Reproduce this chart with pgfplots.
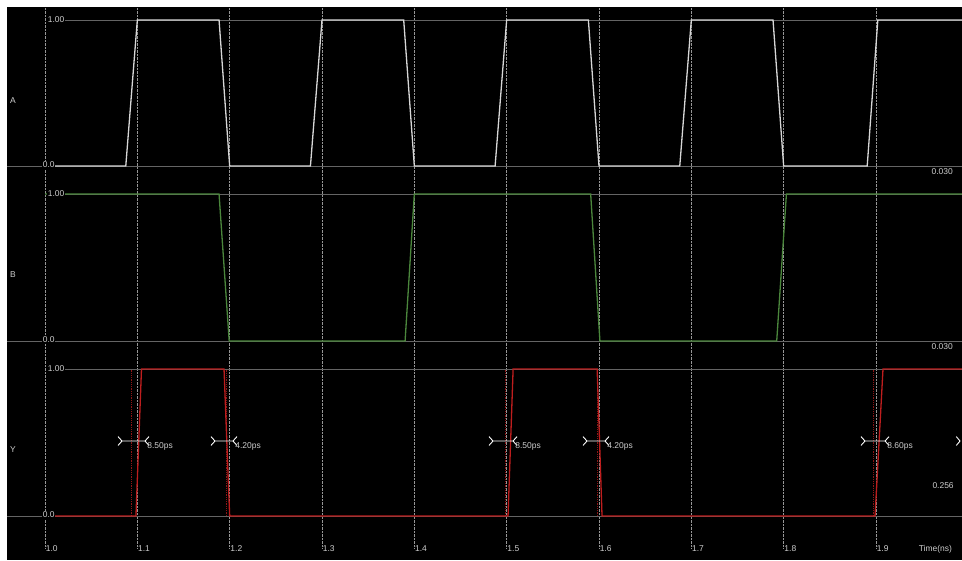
\documentclass[border=0pt]{standalone}
\usepackage{pgfplots}
\pgfplotsset{compat=1.18}
\usepackage{fontspec}
\setmainfont{Liberation Sans}
\definecolor{tracew}{RGB}{215,215,215}
\definecolor{traceg}{RGB}{75,135,60}
\definecolor{tracer}{RGB}{190,30,30}
\definecolor{refl}{RGB}{100,100,100}
\definecolor{gridc}{RGB}{150,150,150}
\definecolor{txt}{RGB}{205,205,205}
\pgfplotsset{
  sig/.style={scale only axis, width=955bp, xmin=0.95884, xmax=1.99318,
    ymin=0, ymax=1, hide axis, clip=false, anchor=south west},
}
\tikzset{lab/.style={font=\fontsize{8.5}{10}\selectfont, text=txt, inner sep=0.6bp}}
\begin{document}
\begin{tikzpicture}[x=1bp,y=1bp]
\useasboundingbox (0,0) rectangle (962,561);
\fill[white] (0,0) rectangle (962,561);
\fill[black] (7,1) rectangle (962,554);

% background axis: grid and time ticks
\begin{axis}[scale only axis, width=955bp, height=541bp, at={(7bp,13bp)}, anchor=south west,
  xmin=0.95884, xmax=1.99318, ymin=0, ymax=1, clip=false,
  xtick={1.0,1.1,1.2,1.3,1.4,1.5,1.6,1.7,1.8,1.9}, xticklabels={}, ytick=\empty,
  xmajorgrids, grid style={gridc, densely dotted, line width=0.7bp},
  axis line style={draw=none}, tick style={draw=none}]
\addplot[draw=none] coordinates {(1.0,0.5)};
\node[lab, anchor=base west] at (axis cs:1.0,-0.0074) {1.0};
\node[lab, anchor=base west] at (axis cs:1.1,-0.0074) {1.1};
\node[lab, anchor=base west] at (axis cs:1.2,-0.0074) {1.2};
\node[lab, anchor=base west] at (axis cs:1.3,-0.0074) {1.3};
\node[lab, anchor=base west] at (axis cs:1.4,-0.0074) {1.4};
\node[lab, anchor=base west] at (axis cs:1.5,-0.0074) {1.5};
\node[lab, anchor=base west] at (axis cs:1.6,-0.0074) {1.6};
\node[lab, anchor=base west] at (axis cs:1.7,-0.0074) {1.7};
\node[lab, anchor=base west] at (axis cs:1.8,-0.0074) {1.8};
\node[lab, anchor=base west] at (axis cs:1.9,-0.0074) {1.9};
\node[lab, anchor=base west] at (axis cs:1.9455,-0.0074) {Time(ns)};
\end{axis}

% Panel A
\begin{axis}[sig, height=146bp, at={(7bp,395bp)}]
\addplot[refl, line width=0.8bp] coordinates {(0.95884,0) (1.99318,0)};
\addplot[refl, line width=0.8bp] coordinates {(1.0217,1) (1.99318,1)};
\addplot[tracew, line width=1.3bp] coordinates {
(1.0,0) (1.0875,0) (1.1,1) (1.1885,1) (1.2,0) (1.2875,0) (1.3,1) (1.3885,1) (1.4,0)
(1.4875,0) (1.5,1) (1.5885,1) (1.6,0) (1.6875,0) (1.7,1) (1.7885,1) (1.8,0)
(1.8905,0) (1.902,1) (1.99318,1)};
\node[lab, anchor=west, fill=black] at (axis cs:1.0022,1) {1.00};
\node[lab, anchor=west, fill=black, yshift=1bp] at (axis cs:0.99675,0) {0.0};
\node[lab] at (axis cs:0.9653,0.45) {A};
\node[lab] at (axis cs:1.9718,-0.04) {0.030};
\end{axis}

% Panel B
\begin{axis}[sig, height=147bp, at={(7bp,220bp)}]
\addplot[refl, line width=0.8bp] coordinates {(0.95884,0) (1.99318,0)};
\addplot[refl, line width=0.8bp] coordinates {(1.0217,1) (1.99318,1)};
\addplot[traceg, line width=1.3bp] coordinates {
(1.0,1) (1.1885,1) (1.1995,0) (1.39,0) (1.4,1) (1.591,1) (1.601,0)
(1.7925,0) (1.803,1) (1.99318,1)};
\node[lab, anchor=west, fill=black] at (axis cs:1.0022,1) {1.00};
\node[lab, anchor=west, fill=black, yshift=1bp] at (axis cs:0.99675,0) {0.0};
\node[lab] at (axis cs:0.9653,0.45) {B};
\node[lab] at (axis cs:1.9718,-0.035) {0.030};
\end{axis}

% Panel Y
\begin{axis}[sig, height=147bp, at={(7bp,45bp)}]
\addplot[refl, line width=0.8bp] coordinates {(0.95884,0) (1.99318,0)};
\addplot[refl, line width=0.8bp] coordinates {(1.0217,1) (1.99318,1)};
\addplot[tracer!75!black, densely dotted, line width=0.8bp] coordinates {(1.094,0) (1.094,1)};
\addplot[tracer!75!black, densely dotted, line width=0.8bp] coordinates {(1.197,0) (1.197,1)};
\addplot[tracer!75!black, densely dotted, line width=0.8bp] coordinates {(1.499,0) (1.499,1)};
\addplot[tracer!75!black, densely dotted, line width=0.8bp] coordinates {(1.598,0) (1.598,1)};
\addplot[tracer!75!black, densely dotted, line width=0.8bp] coordinates {(1.897,0) (1.897,1)};
\addplot[tracer, line width=1.3bp] coordinates {
(1.0,0) (1.0985,0) (1.1045,1) (1.1939,1) (1.2,0) (1.5015,0) (1.507,1)
(1.598,1) (1.6033,0) (1.899,0) (1.9076,1) (1.99318,1)};
% measurement markers
\addplot[white, line width=0.9bp] coordinates {(1.0791,0.54) (1.0834,0.51) (1.1083,0.51) (1.1126,0.54)};
\addplot[white, line width=0.9bp] coordinates {(1.0791,0.48) (1.0834,0.51)};
\addplot[white, line width=0.9bp] coordinates {(1.1083,0.51) (1.1126,0.48)};
\addplot[white, line width=0.9bp] coordinates {(1.1798,0.54) (1.1841,0.51) (1.2036,0.51) (1.2079,0.54)};
\addplot[white, line width=0.9bp] coordinates {(1.1798,0.48) (1.1841,0.51)};
\addplot[white, line width=0.9bp] coordinates {(1.2036,0.51) (1.2079,0.48)};
\addplot[white, line width=0.9bp] coordinates {(1.4809,0.54) (1.4852,0.51) (1.5069,0.51) (1.5112,0.54)};
\addplot[white, line width=0.9bp] coordinates {(1.4809,0.48) (1.4852,0.51)};
\addplot[white, line width=0.9bp] coordinates {(1.5069,0.51) (1.5112,0.48)};
\addplot[white, line width=0.9bp] coordinates {(1.5827,0.54) (1.5870,0.51) (1.6065,0.51) (1.6108,0.54)};
\addplot[white, line width=0.9bp] coordinates {(1.5827,0.48) (1.5870,0.51)};
\addplot[white, line width=0.9bp] coordinates {(1.6065,0.51) (1.6108,0.48)};
\addplot[white, line width=0.9bp] coordinates {(1.8838,0.54) (1.8881,0.51) (1.9098,0.51) (1.9141,0.54)};
\addplot[white, line width=0.9bp] coordinates {(1.8838,0.48) (1.8881,0.51)};
\addplot[white, line width=0.9bp] coordinates {(1.9098,0.51) (1.9141,0.48)};
\addplot[white, line width=0.9bp] coordinates {(1.9870,0.54) (1.9910,0.51) (1.9870,0.48)};
\node[lab, anchor=west] at (axis cs:1.1100,0.47) {8.50ps};
\node[lab, anchor=west] at (axis cs:1.2053,0.47) {4.20ps};
\node[lab, anchor=west] at (axis cs:1.5086,0.47) {8.50ps};
\node[lab, anchor=west] at (axis cs:1.6082,0.47) {4.20ps};
\node[lab, anchor=west] at (axis cs:1.9115,0.47) {8.60ps};
\node[lab, anchor=west, fill=black] at (axis cs:1.0022,1) {1.00};
\node[lab, anchor=west, fill=black, yshift=1bp] at (axis cs:0.99675,0) {0.0};
\node[lab] at (axis cs:0.9653,0.45) {Y};
\node[lab] at (axis cs:1.9727,0.21) {0.256};
\end{axis}
\end{tikzpicture}
\end{document}
